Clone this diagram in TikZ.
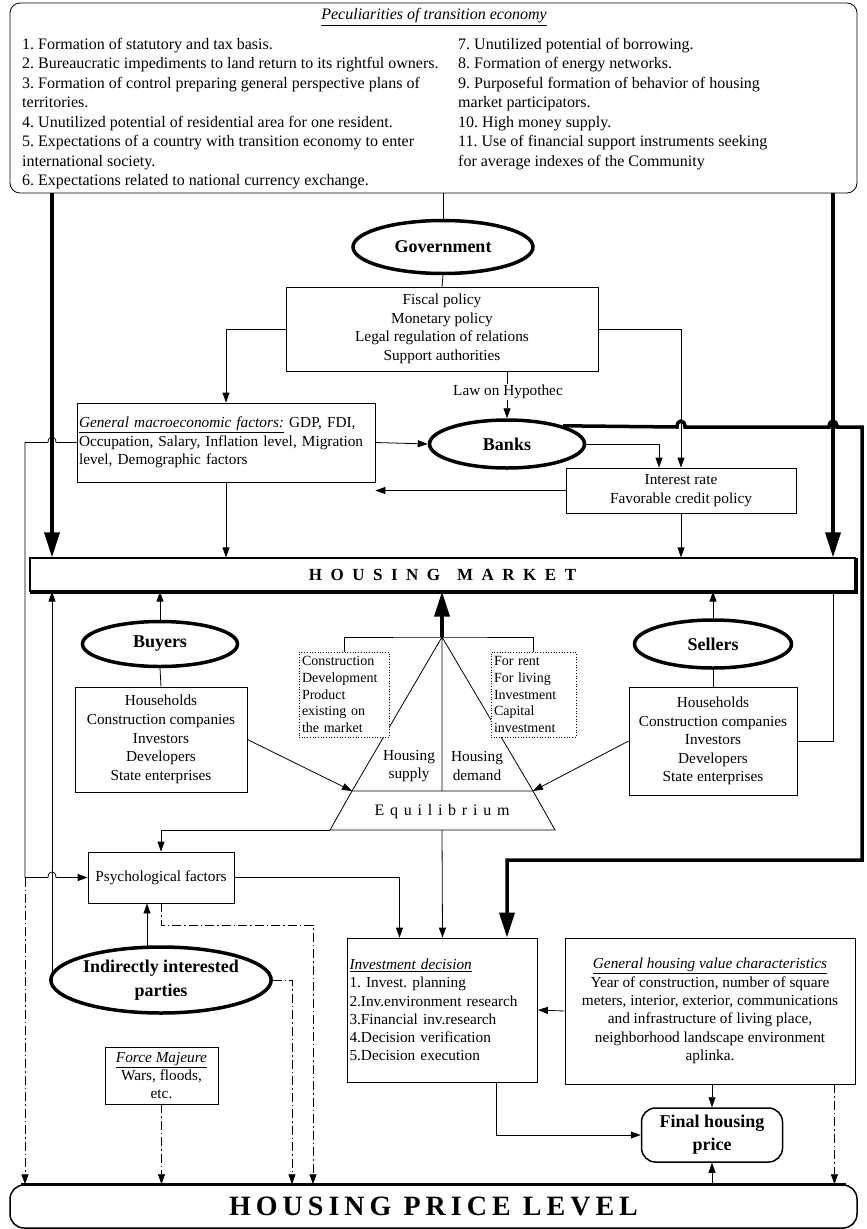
\documentclass[tikz,border=0pt]{standalone}
\usepackage{fontspec}
\setmainfont{Liberation Serif}
\usetikzlibrary{arrows.meta,shapes.geometric,calc}
\frenchspacing
\newcommand{\txtsize}{\fontsize{15.3}{18.6}\selectfont}
\newcommand{\actsize}{\fontsize{18}{23}\selectfont\bfseries}
\newcommand{\ititle}[1]{\underline{\textit{#1}}}
\tikzset{
  box/.style={draw, line width=0.8pt, align=center, inner sep=2pt, font=\txtsize},
  dotbox/.style={draw, dotted, line width=0.7pt, fill=white, align=left, inner sep=3pt, font=\fontsize{14}{16.8}\selectfont},
  actor/.style={draw, ellipse, line width=3.5pt, inner sep=0pt, align=center, font=\actsize},
  lbl/.style={font=\txtsize, align=center, inner sep=1pt},
  link/.style={line width=0.8pt, -{Triangle[length=10pt,width=7pt]}},
  plain/.style={line width=0.8pt},
  heavy/.style={line width=3.5pt},
  heavyarrow/.style={line width=3.5pt, -{Triangle[length=25pt,width=15pt]}},
  dashlink/.style={line width=0.8pt, dash pattern=on 9pt off 3pt on 1.5pt off 3pt, -{Triangle[length=10pt,width=7pt]}},
}

\begin{document}
\begin{tikzpicture}[x=1pt, y=-1pt]
\useasboundingbox (0,0) rectangle (867,1229);
\coordinate (lft) at (52,0);
\coordinate (rgt) at (833,0);

% peculiarities of transition economy
\node[draw, line width=0.8pt, rounded corners=10pt, minimum width=847pt, minimum height=190pt] (pec) at (433.5,98) {};
\node[font=\fontsize{16}{19.5}\selectfont] (pectitle) at (434,17) {\ititle{Peculiarities of transition economy}};
\node[font=\fontsize{16}{19.5}\selectfont, align=left, anchor=north west, inner sep=0pt] (pecl) at (22,38) {1. Formation of statutory and tax basis.\\
2. Bureaucratic impediments to land return to its rightful owners.\\
3. Formation of control preparing general perspective plans of\\
territories.\\
4. Unutilized potential of residential area for one resident.\\
5. Expectations of a country with transition economy to enter\\
international society.\\
6. Expectations related to national currency exchange.};
\node[font=\fontsize{16}{19.5}\selectfont, align=left, anchor=north west, inner sep=0pt] (pecr) at (458,38) {7. Unutilized potential of borrowing.\\
8. Formation of energy networks.\\
9. Purposeful formation of behavior of housing\\
market participators.\\
10. High money supply.\\
11. Use of financial support instruments seeking\\
for average indexes of the Community};

% government and policy
\node[actor, minimum width=180pt, minimum height=53pt] (gov) at (443,247) {Government};
\node[box, minimum width=312pt, minimum height=84pt] (fis) at (442,329) {Fiscal policy\\Monetary policy\\Legal regulation of relations\\Support authorities};
\node[box, align=left, text width=294pt, minimum height=79pt] (macro) at (226,442.5) {\ititle{General macroeconomic factors:}~GDP, FDI,\\Occupation, Salary, Inflation level, Migration\\level, Demographic factors};
\node[actor, minimum width=155pt, minimum height=48pt] (banks) at (507,444) {Banks};
\node[box, minimum width=230pt, minimum height=45pt] (rate) at (681,490.5) {Interest rate\\Favorable credit policy};

\draw[plain] (pec.south -| gov) -- (gov.north);
\draw[plain] (gov.south) -- (fis.north);
\draw[link] (fis.west) -| (macro.north);
\draw[link] (fis.east) -| (rate.north);
\draw[link] (banks.north |- fis.south) -- (banks.north);
\node[lbl, fill=white] (law) at (508,392) {Law on Hypothec};
\draw[link] (macro.east) -- (banks.west);
\draw[link] (banks.east) -| ($(rate.north)+(-22,0)$);
\draw[link] (rate.west) -- (rate.west -| macro.east);

% housing market
\node[draw, line width=1.2pt, minimum width=825pt, minimum height=33pt,
  font=\fontsize{17}{20}\selectfont\bfseries\addfontfeature{LetterSpace=50}] (hm) at (442.5,574.5) {HOUSING\quad MARKET};
\draw[line width=1.5pt] ($(hm.south west)+(1,1.5)$) -- ($(hm.south east)+(1.5,1.5)$) -- ($(hm.north east)+(1.5,1)$);
\draw[heavyarrow] (lft |- pec.south) -- (lft |- hm.north);
\draw[heavyarrow] (rgt |- pec.south) -- (rgt |- hm.north);
\draw[link] (macro.south) -- (macro.south |- hm.north);
\draw[link] (rate.south) -- (rate.south |- hm.north);

% buyers and sellers
\node[actor, minimum width=155pt, minimum height=45pt] (buy) at (160,644) {Buyers};
\node[box, minimum width=172pt, minimum height=105pt] (buybox) at (161,739.5) {Households\\Construction companies\\Investors\\Developers\\State enterprises};
\node[actor, minimum width=157pt, minimum height=48pt] (sell) at (713,644) {Sellers};
\node[box, minimum width=168pt, minimum height=108pt] (sellbox) at (713,741) {Households\\Construction companies\\Investors\\Developers\\State enterprises};
\draw[link] (buy.north) -- (buy.north |- hm.south);
\draw[plain] (buy.south) -- (buybox.north);
\draw[link] (sell.north) -- (sell.north |- hm.south);
\draw[plain] (sell.south) -- (sellbox.north);
\draw[plain] (sellbox.east) -| (rgt |- hm.south);

% supply / demand triangle and equilibrium
\coordinate (apex) at (442,637);
\coordinate (eqtl) at (352,791);
\coordinate (eqtr) at (533,791);
\coordinate (eqbl) at (330,830);
\coordinate (eqbr) at (555,830);
\coordinate (eqb) at (442,830);
\draw[plain] (eqtl) -- (apex) -- (eqtr) (apex) -- (apex |- eqtl);
\draw[plain] (eqtl) -- (eqtr) -- (eqbr) -- (eqbl) -- cycle;
\node[dotbox, text width=84pt, minimum height=85pt] (sup) at (344,694.5) {Construction\\Development\\Product\\existing on\\the market};
\node[dotbox, text width=79pt, minimum height=85pt] (dem) at (533.5,694.5) {For rent\\For living\\Investment\\Capital\\investment};
\draw[plain] (sup.north) |- (apex) -| (dem.north);
\draw[heavyarrow] (apex) -- (apex |- hm.south);
\node[lbl] (sply) at (409,766) {Housing\\supply};
\node[lbl] (dmnd) at (477,766) {Housing\\demand};
\node[font=\fontsize{16}{19}\selectfont\addfontfeature{LetterSpace=36}] (eq) at (442,812) {Equilibrium};
\draw[link] (buybox.east) -- (eqtl);
\draw[link] (sellbox.west) -- (eqtr);

% decision level
\node[box, minimum width=146pt, minimum height=51pt] (psy) at (161,877.5) {Psychological factors};
\node[actor, minimum width=207pt, minimum height=66pt, font=\fontsize{18}{24}\selectfont\bfseries] (ind) at (161,980) {Indirectly interested\\parties};
\node[box, minimum width=113pt, minimum height=57pt, font=\fontsize{15.3}{18}\selectfont] (force) at (161.5,1075.5) {\ititle{Force Majeure}\\Wars, floods,\\etc.};
\node[box, align=left, text width=186pt, minimum height=144pt, font=\fontsize{15.3}{18.2}\selectfont] (inv) at (442.5,1010) {\ititle{Investment decision}\\1. Invest. planning\\2.Inv.environment research\\3.Financial inv.research\\4.Decision verification\\5.Decision execution};
\node[box, minimum width=290pt, minimum height=146pt, font=\fontsize{15.3}{18.4}\selectfont] (gen) at (710,1011) {\ititle{General housing value characteristics}\\Year of construction, number of square\\meters, interior, exterior, communications\\and infrastructure of living place,\\neighborhood landscape environment\\aplinka.};
\node[draw, line width=1.5pt, rounded corners=14pt, minimum width=141pt, minimum height=54pt, align=center, font=\actsize] (fin) at (712,1135) {Final housing\\price};
\node[draw, line width=1.5pt, rounded corners=14pt, minimum width=847pt, minimum height=43pt,
  font=\fontsize{28}{30}\selectfont\bfseries\addfontfeature{LetterSpace=18}] (hpl) at (433.5,1206.5) {HOUSING PRICE LEVEL};
\draw[heavy] ($(hpl.north west)+(12,0)$) -- ($(hpl.north east)+(-12,0)$);

\draw[link] (macro.west) -- (56,442.5) .. controls (56,435) and (48,435) .. (48,442.5) -- (25,442.5) -- (25,877.5) -- (48,877.5) .. controls (48,870) and (56,870) .. (56,877.5) -- (psy.west);
\coordinate (lcorner) at (25,877.5);
\draw[dashlink] (lcorner) -- (lcorner |- hpl.north);
\draw[link] (ind.west) -| (lft |- hm.south);
\draw[link] (eqbl) -| (psy.north);
\draw[link] (psy.east) -| ($(inv.north)+(-43,0)$);
\draw[link] (eqb) -- (inv.north);
\draw[link] ($(ind.north)+(-14,1)$) -- ($(psy.south)+(-14,0)$);
\coordinate (pd) at (313,925);
\draw[dashlink] (psy.south) |- (pd) -- (pd |- hpl.north);
\coordinate (id) at (292,980);
\draw[dashlink] (ind.east) -- (id) -- (id |- hpl.north);
\draw[dashlink] (force.south) -- (force.south |- hpl.north);
\draw[heavyarrow] (banks.north east) -- (677,427) .. controls (677,419) and (685,419) .. (685,427) -- (829,427) .. controls (829,419) and (837,419) .. (837,427) -- (862,427) -- (862,860) -- (banks |- 0,860) -- (banks |- inv.north);
\draw[link] (gen.west) -- (inv.east);
\draw[link] (gen.south -| fin) -- (fin.north);
\draw[link] ($(inv.south)+(53.5,0)$) |- (fin.west);
\draw[link] (fin.south |- hpl.north) -- (fin.south);
\coordinate (gd) at ($(gen.south east)+(-21,0)$);
\draw[dashlink] (gd) -- (gd |- hpl.north);
\end{tikzpicture}
\end{document}
